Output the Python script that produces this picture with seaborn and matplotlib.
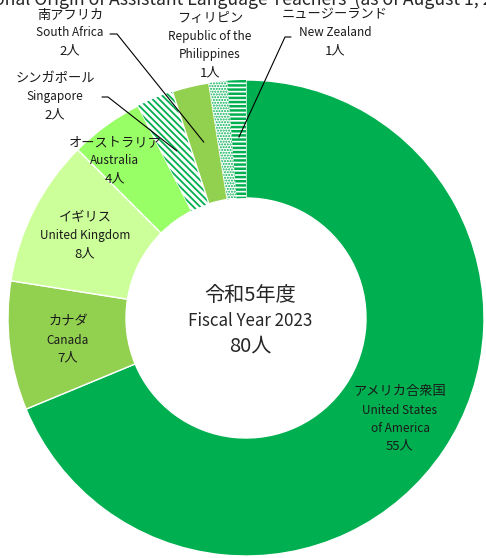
import matplotlib
matplotlib.use("Agg")
import matplotlib.pyplot as plt
import seaborn as sns
import numpy as np

# ── data ──────────────────────────────────────────────────────────────
names_ja = ["アメリカ合衆国", "カナダ", "イギリス", "オーストラリア",
            "シンガポール", "南アフリカ", "フィリピン", "ニュージーランド"]
names_en = ["United States\nof America", "Canada", "United Kingdom", "Australia",
            "Singapore", "South Africa", "Republic of the\nPhilippines", "New Zealand"]
counts = [55, 7, 8, 4, 2, 2, 1, 1]

TITLE = "National Origin of Assistant Language Teachers  (as of August 1, 2023)"
CENTER_JA = "令和5年度"
CENTER_EN = "Fiscal Year 2023"

# ── style ─────────────────────────────────────────────────────────────
GREEN = "#00B050"
FACES = [GREEN, "#92D050", "#CCFF99", "#99FF66", "white", "#92D050", "white", "white"]
HATCHES = [None, None, None, None, "\\\\\\\\\\", None, "......", "----"]
HATCH_LW = [None, None, None, None, 1.3, None, 1.0, 1.8]

# label block centres in pixels (x, y from top-left)
LABEL_POS = [(400, 419), (68, 340), (85, 236), (115, 161),
             (55, 97), (70, 33), (210, 46), (335, 33)]
# leader line start points (pixels), None = no leader
LEADER = [None, None, None, None,
          [(102, 97), (108, 97)], [(110, 34), (117, 34)], None, [(291, 37), (285, 37)]]
LINE_STEP = 18

W, H = 486, 558
CX, CY, R = 246, 318, 238
R_IN = 120


def px(x, y):
    return (x - CX) / R, (CY - y) / R


sns.set_theme(style="white")
plt.rcParams["font.family"] = ["Noto Sans CJK JP", "DejaVu Sans"]
plt.rcParams["hatch.linewidth"] = 1.5

fig = plt.figure(figsize=(W / 100, H / 100), dpi=100)
ax = fig.add_axes([0, 0, 1, 1])

wedges, _ = ax.pie(counts, radius=1, startangle=90, counterclock=False,
                   colors=FACES,
                   wedgeprops=dict(width=(R - R_IN) / R,
                                   edgecolor="white", linewidth=1))
for w, h, hlw in zip(wedges, HATCHES, HATCH_LW):
    if h:
        w.set_hatch(h)
        w.set_edgecolor(GREEN)
        w.set_linewidth(0)
        if hasattr(w, "set_hatch_linewidth"):
            w.set_hatch_linewidth(hlw)

ax.set_xlim(-CX / R, (W - CX) / R)
ax.set_ylim(-(H - CY) / R, CY / R)
ax.set_aspect("auto")
ax.axis("off")

# labels
for i, (ja, en, n) in enumerate(zip(names_ja, names_en, counts)):
    lines = [(ja, 9.5)] + [(s, 8.5) for s in en.split("\n")] + [(f"{n}人", 9.5)]
    cx, cy = LABEL_POS[i]
    y0 = cy - LINE_STEP * (len(lines) - 1) / 2
    for k, (s, fs) in enumerate(lines):
        ax.text(*px(cx, y0 + k * LINE_STEP), s, ha="center", va="center",
                fontsize=fs, color="#1a1a1a")
    if LEADER[i]:
        w = wedges[i]
        mid = np.deg2rad((w.theta1 + w.theta2) / 2)
        end = (0.76 * np.cos(mid), 0.76 * np.sin(mid))
        pts = [px(*p) for p in LEADER[i]] + [end]
        xs, ys = zip(*pts)
        ax.plot(xs, ys, color="black", lw=0.8)

# centre text
ax.text(*px(250, 296), CENTER_JA, ha="center", va="center", fontsize=14.5)
ax.text(*px(250, 321), CENTER_EN, ha="center", va="center", fontsize=12.2)
ax.text(*px(250, 346), f"{sum(counts)}人", ha="center", va="center", fontsize=14.5)

# title (partly cut off at the top edge, as in the source)
fig.text(-40 / W, 1 - 5 / H, TITLE, ha="left", va="baseline", fontsize=12.7)

fig.savefig("out.png", dpi=100)
